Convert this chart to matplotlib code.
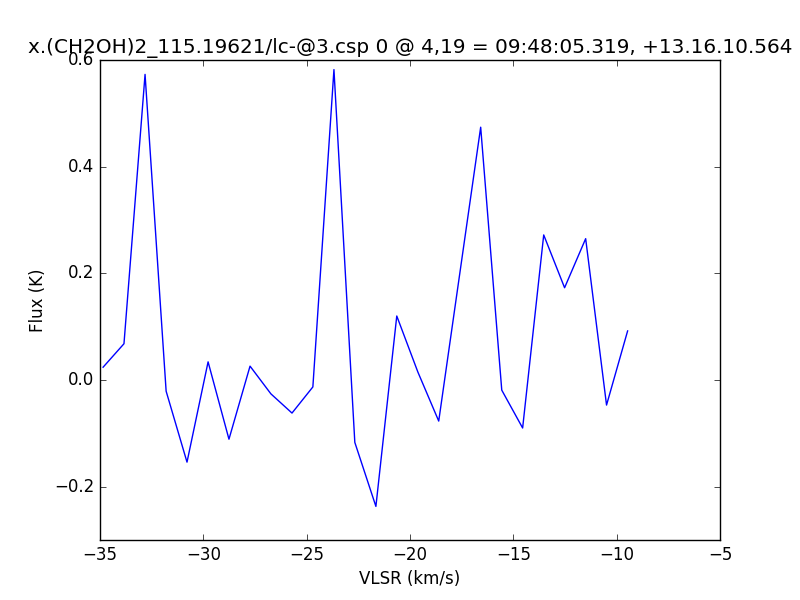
import matplotlib
matplotlib.use("Agg")
import matplotlib.pyplot as plt

plt.style.use('classic')

vlsr = [-34.85, -33.84, -32.82, -31.80, -30.79, -29.77, -28.76, -27.74, -26.73,
        -25.71, -24.70, -23.68, -22.67, -21.65, -20.64, -19.62, -18.61, -17.59,
        -16.58, -15.56, -14.55, -13.53, -12.52, -11.50, -10.49, -9.47]
flux = [0.024, 0.068, 0.573, -0.021, -0.154, 0.034, -0.111, 0.026, -0.026,
        -0.062, -0.013, 0.582, -0.117, -0.237, 0.120, 0.015, -0.077, 0.200,
        0.474, -0.019, -0.090, 0.272, 0.173, 0.265, -0.047, 0.092]

title = "x.(CH2OH)2_115.19621/lc-@3.csp 0 @ 4,19 = 09:48:05.319, +13.16.10.564"

fig = plt.figure(figsize=(8, 6), dpi=100, facecolor='white')
ax = fig.add_axes([0.125, 0.1, 0.775, 0.8])
ax.plot(vlsr, flux, color='b', linewidth=1.0)
ax.set_xlim(-35, -5)
ax.set_ylim(-0.3, 0.6)
ax.set_xticks([-35, -30, -25, -20, -15, -10, -5])
ax.set_yticks([-0.2, 0.0, 0.2, 0.4, 0.6])
ax.set_xlabel("VLSR (km/s)")
ax.set_ylabel("Flux (K)")
ax.set_title(title)
fig.savefig("out.png", dpi=100, facecolor='white')
